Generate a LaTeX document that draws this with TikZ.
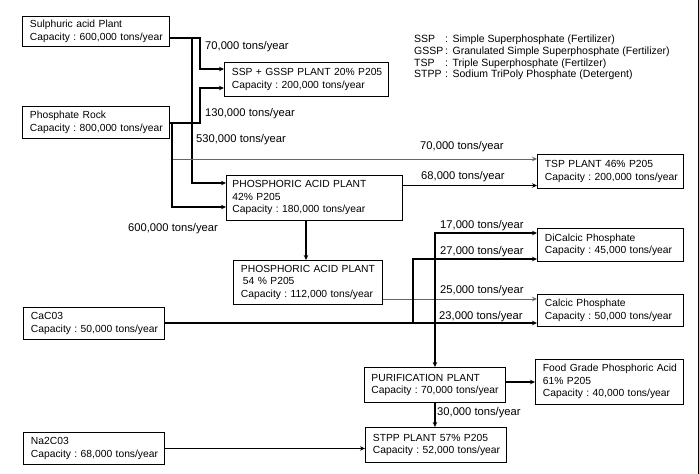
\documentclass[tikz,border=0pt]{standalone}
\usepackage{fontspec}
\setmainfont{Liberation Sans}
\usetikzlibrary{arrows.meta,calc}
\frenchspacing
\newcommand\bxfont{\fontsize{10.3pt}{12.5pt}\selectfont}
\newcommand\lgfont{\fontsize{10.5pt}{11.7pt}\selectfont}
\newcommand\lbfont{\fontsize{11.2pt}{12pt}\selectfont}
\newcommand\bxt[1]{\begin{tabular}{@{}l@{}}#1\end{tabular}}
\begin{document}
\begin{tikzpicture}[x=1pt,y=-1pt,
  box/.style={draw=black,line width=0.9pt,anchor=north west,inner xsep=7.5pt,inner ysep=0pt,align=left,font=\bxfont},
  lbl/.style={anchor=west,inner sep=0pt,font=\lbfont},
  thk/.style={line width=1.6pt},
  med/.style={line width=1.1pt},
  thn/.style={line width=0.8pt,draw=black!60},
  arr/.style={-{Stealth[length=5pt,width=4.5pt]}},
]
\useasboundingbox (0,0) rectangle (699,474);

% boxes
\node[box,minimum width=147pt,minimum height=30pt,text width=132pt] (sulph) at (22,16) {\bxt{Sulphuric acid Plant\\Capacity : 600,000 tons/year}};
\node[box,minimum width=147pt,minimum height=32pt,text width=132pt] (rock) at (22,106) {\bxt{Phosphate Rock\\Capacity : 800,000 tons/year}};
\node[box,minimum width=164pt,minimum height=34pt,text width=149pt] (ssp) at (224,62) {\bxt{SSP + GSSP PLANT 20\% P205\\Capacity : 200,000 tons/year}};
\node[box,minimum width=176pt,minimum height=45pt,text width=164pt,inner xsep=6pt] (phos42) at (226,175) {\bxt{PHOSPHORIC ACID PLANT\\42\% P205\\Capacity : 180,000 tons/year}};
\node[box,minimum width=146pt,minimum height=34pt,text width=131pt] (tsp) at (537,154) {\bxt{TSP PLANT 46\% P205\\Capacity : 200,000 tons/year}};
\node[box,minimum width=149pt,minimum height=44pt,text width=134pt] (phos54) at (233,260) {\bxt{PHOSPHORIC ACID PLANT\\\hspace{2pt}54 \% P205\\Capacity : 112,000 tons/year}};
\node[box,minimum width=146pt,minimum height=33pt,text width=131pt] (dical) at (537,228) {\bxt{DiCalcic Phosphate\\Capacity : 45,000 tons/year}};
\node[box,minimum width=146pt,minimum height=32pt,text width=131pt] (calcic) at (537,294) {\bxt{Calcic Phosphate\\Capacity : 50,000 tons/year}};
\node[box,minimum width=141pt,minimum height=32pt,text width=126pt] (caco) at (23,307) {\bxt{CaC03\\Capacity : 50,000 tons/year}};
\node[box,minimum width=141pt,minimum height=35pt,text width=127pt,inner xsep=7pt] (purif) at (364,367) {\bxt{PURIFICATION PLANT\\Capacity : 70,000 tons/year}};
\node[box,minimum width=148pt,minimum height=45pt,text width=133pt] (food) at (535,359) {\bxt{Food Grade Phosphoric Acid\\61\% P205\\Capacity : 40,000 tons/year}};
\node[box,minimum width=141pt,minimum height=35pt,text width=126pt] (stpp) at (365,427) {\bxt{STPP PLANT 57\% P205\\Capacity : 52,000 tons/year}};
\node[box,minimum width=141pt,minimum height=32pt,text width=126pt] (na) at (23,432) {\bxt{Na2C03\\Capacity : 68,000 tons/year}};

% legend
\node[anchor=north west,inner sep=0pt,align=left,font=\lgfont] (legend) at (414,35)
 {\makebox[31pt][l]{SSP}:\hspace{4.5pt}Simple Superphosphate (Fertilizer)\\
  \makebox[31pt][l]{GSSP}:\hspace{4.5pt}Granulated Simple Superphosphate (Fertilizer)\\
  \makebox[31pt][l]{TSP}:\hspace{4.5pt}Triple Superphosphate (Fertilzer)\\
  \makebox[31pt][l]{STPP}:\hspace{4.5pt}Sodium TriPoly Phosphate (Detergent)};

% connectors
\draw[thk,arr] ([yshift=-22pt]sulph.north east) -| ([xshift=-24pt,yshift=-7pt]ssp.north west) -- ([yshift=-7pt]ssp.north west);
\draw[thk,arr] ([yshift=-22pt]sulph.north east) -| ([xshift=-34pt,yshift=-8pt]phos42.north west) -- ([yshift=-8pt]phos42.north west);
\draw[thk,arr] ([yshift=-17pt]rock.north east) -| ([xshift=-24pt,yshift=-26pt]ssp.north west) -- ([yshift=-26pt]ssp.north west);
\draw[thk,arr] ([yshift=-17pt]rock.north east) -| ([xshift=-54pt,yshift=-32pt]phos42.north west) -- ([yshift=-32pt]phos42.north west);

\coordinate (r70) at ([xshift=3pt,yshift=-53pt]rock.north east);
\draw[thn,arr] (r70) -- (r70 -| tsp.west);

\coordinate (p68) at ([yshift=-10.5pt]phos42.north east);
\draw[med,arr] (p68) -- (p68 -| tsp.west);

\coordinate (p42s) at ([xshift=80pt]phos42.south west);
\draw[med,arr] (p42s) -- (p42s |- phos54.north);

\coordinate (l25) at ([yshift=-39pt]phos54.north east);
\draw[thn,arr] (l25) -- (l25 -| calcic.west);
\coordinate (j2) at (purif.north |- l25);
\draw[med,arr] (j2) |- ([yshift=-5pt]dical.north west);
\draw[med,arr] (j2) -- (purif.north);

\coordinate (c0) at ([yshift=-16pt]caco.north east);
\draw[thk,arr] (c0) -- (c0 -| calcic.west);
\coordinate (j3) at ($(c0 -| calcic.west)+(-124,0)$);
\draw[thk,arr] (j3) |- ([yshift=-31pt]dical.north west);

\coordinate (pf) at ([yshift=-15pt]purif.north east);
\draw[thk,arr] (pf) -- (pf -| food.west);
\draw[thk,arr] (purif.south) -- (purif.south |- stpp.north);
\draw[thk,arr] (na.east) -- (na.east -| stpp.west);

% labels
\node[lbl] (t70a) at (205,47) {70,000 tons/year};
\node[lbl] (t130) at (205,114) {130,000 tons/year};
\node[lbl] (t530) at (196,140) {530,000 tons/year};
\node[lbl] (t600) at (128,229) {600,000 tons/year};
\node[lbl] (t70b) at (420,147) {70,000 tons/year};
\node[lbl] (t68) at (421,177) {68,000 tons/year};
\node[lbl] (t17) at (440,226) {17,000 tons/year};
\node[lbl] (t27) at (440,252) {27,000 tons/year};
\node[lbl] (t25) at (440,291) {25,000 tons/year};
\node[lbl] (t23) at (439,317) {23,000 tons/year};
\node[lbl] (t30) at (437,413) {30,000 tons/year};

% right border
\draw[line width=1pt] (698,0) -- (698,474);
\end{tikzpicture}
\end{document}
